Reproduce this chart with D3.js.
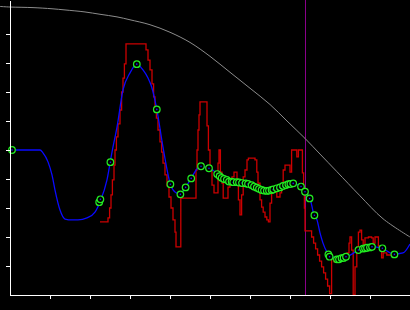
<!DOCTYPE html>
<html>
<head>
    <meta charset="utf-8">
    <style>
        body{
            margin: 0;
            background-color: black;
        }
        svg{
            display: block;
            background-color: black;
        }
        .axis path, .axis line{
            stroke: white;
            stroke-width: 1.5px;
            shape-rendering: crispEdges;
        }
        .axis text{
            display: none;
        }
    </style>
</head>
<body>
    <svg class="vis"></svg>

    <script src="https://cdnjs.cloudflare.com/ajax/libs/d3/7.8.5/d3.min.js"></script>
    <script>

        var width = 410;
        var height = 310;

        // tick values (the reference shows no labels)
        var xTicks = [10, 20, 30, 40, 50, 60, 70, 80, 90];
        var yTicks = [10, 20, 30, 40, 50, 60, 70, 80, 90];

        // marker position
        var markerX = 73.8;

        // gray envelope curve
        var envX = [-2.5, 0, 5.75, 10.5, 13.75, 18.75, 22.5, 26.75, 30, 35, 40, 45, 50, 55, 60, 65, 69.25, 73.75, 77.5, 81.75, 87.5, 93.25, 100];
        var envY = [99.5, 99.3, 99.1, 98.7, 98.3, 97.6, 96.8, 95.9, 94.9, 93.2, 90.6, 87.1, 82.3, 76.8, 71.3, 65.7, 60.0, 54.0, 48.6, 42.5, 34.2, 26.3, 20.0];

        // red raw signal (step)
        var rawX = [22.5, 24.5, 24.9, 25.25, 25.6, 26.0, 26.25, 26.6, 27.0, 27.5, 27.9, 28.25, 28.6, 29.0,
                    34.0, 34.5, 35.0, 35.5, 35.9, 36.25, 36.6, 37.0, 37.5, 37.9, 38.25, 38.75, 39.25, 39.75, 40.25, 40.75, 41.25, 41.5,
                    42.7, 46.5, 46.75, 47.0, 47.25, 47.5, 49.25, 49.6, 50.0, 50.5, 51.0, 51.5, 52.0, 52.25, 52.6, 53.0, 53.3,
                    54.5, 55.0, 55.5, 56.0, 56.75, 57.1, 57.5, 57.9, 58.3, 58.75, 59.25, 59.6, 61.25, 61.7, 62.0, 62.5, 62.9, 63.3, 63.75, 64.2, 64.6,
                    65.0, 65.4, 65.8, 66.7, 67.5, 67.9, 68.3, 68.75, 69.6, 70.0, 70.4, 71.7, 72.1, 73.1, 73.4, 73.6, 73.75,
                    75.4, 75.9, 76.4, 76.9, 77.4, 77.9, 78.4, 78.9, 79.4, 79.9, 80.4, 81.0, 82.0, 83.25, 84.25, 84.75, 85.0, 85.4, 85.8,
                    86.25, 86.7, 87.1, 87.5, 87.9, 88.3, 88.75, 89.6, 90.4, 90.8, 91.25, 92.1, 92.6, 92.9, 93.3, 94.2, 95.8];
        var rawY = [25.2, 26.6, 30.0, 34.5, 39.7, 44.8, 50.0, 54.5, 59.0, 63.8, 70.0, 74.8, 79.7, 86.6,
                    84.5, 81.0, 77.6, 72.8, 68.3, 64.5, 61.0, 56.9, 52.8, 49.3, 45.5, 41.4, 37.6, 33.8, 30.0, 25.9, 21.7, 16.6,
                    33.4, 43.1, 50.0, 56.9, 62.1, 66.6, 58.3, 50.0, 43.1, 37.9, 35.2, 35.2, 45.5, 50.0, 42.4, 38.6, 33.4,
                    37.2, 39.3, 40.7, 42.4, 38.6, 32.8, 27.6, 34.5, 40.7, 43.1, 46.6, 47.2, 46.6, 42.4, 38.6, 32.8, 30.3, 28.6, 26.9, 25.9, 25.2,
                    31.7, 35.2, 37.2, 33.8, 35.2, 37.2, 43.1, 44.8, 44.8, 42.4, 50.0, 47.6, 50.0, 42.1, 37.2, 30.0, 22.1,
                    20.0, 17.9, 15.9, 13.8, 11.7, 9.7, 7.6, 5.5, 3.1, 0.5, 12.8, 11.4, 12.1, 13.4, 14.5, 17.9, 20.0, 15.5, 0,
                    9.7, 16.6, 21.7, 22.4, 19.0, 15.5, 19.7, 20.0, 19.7, 17.9, 20.0, 16.9, 15.5, 12.8, 14.5, 13.8, 13.8];

        // blue fitted curve
        var fitX = [0.5, 7.5, 8.25, 9.5, 10.5, 11.25, 12.5, 13.75, 15.5, 17.0, 19.25, 21.25, 22.5, 24.25, 25.5, 26.75, 28.25, 30.0,
                    31.7, 33.25, 34.5, 35.4, 36.7, 38.25, 40.1, 41.25, 42.5, 43.9, 45.25, 47.5, 49.75, 52.0, 54.5, 57.0, 59.0,
                    60.5, 62.0, 63.25, 64.75, 65.75, 67.5, 69.5, 70.75, 72.75, 73.75, 75.0, 76.0, 76.75, 77.5, 78.25, 79.25,
                    80.75, 82.5, 84.0, 85.5, 87.0, 88.75, 90.5, 93.0, 96.0, 98.25, 100];
        var fitY = [50.0, 50.0, 49.0, 45.9, 41.4, 36.2, 29.3, 26.2, 25.9, 25.9, 26.6, 28.6, 32.1, 39.7, 49.3, 57.9, 70.7, 76.6,
                    79.6, 77.6, 74.8, 71.8, 64.0, 51.0, 38.2, 35.5, 34.8, 37.1, 40.2, 44.3, 43.8, 41.7, 39.4, 38.9, 38.5,
                    37.9, 36.9, 36.2, 36.0, 36.2, 37.1, 38.2, 38.5, 37.3, 35.6, 33.3, 27.6, 25.9, 21.4, 17.9, 14.8,
                    13.1, 12.4, 13.1, 14.1, 15.5, 16.2, 16.7, 16.1, 14.1, 14.5, 17.6];

        // green sample points
        var sampX = [0.5, 22.3, 22.6, 25.1, 31.7, 36.7, 40.1, 42.6, 43.9, 45.3, 47.75, 49.75, 51.8, 52.4, 52.9, 53.5, 54.2, 54.75,
                     55.4, 55.8, 56.7, 57.25, 58.0, 58.9, 59.5, 60.4, 61.0, 61.7, 62.25, 62.9, 63.5, 64.2, 64.75, 65.4, 65.8,
                     66.7, 67.5, 68.25, 69.0, 69.6, 70.1, 70.8, 72.75, 73.75, 74.9, 76.1, 79.6, 79.9, 81.75, 82.25, 82.9, 83.4,
                     84.0, 87.1, 88.25, 88.75, 89.25, 90.0, 90.5, 93.1, 96.1];
        var sampY = [50.0, 32.0, 33.0, 45.8, 79.6, 64.0, 38.2, 34.7, 37.1, 40.2, 44.4, 43.7, 41.7, 41.0, 40.4, 40.0, 39.7, 39.1,
                     39.1, 38.9, 38.9, 38.8, 38.6, 38.5, 38.3, 37.9, 37.4, 37.0, 36.6, 36.2, 36.0, 35.9, 36.0, 36.2, 36.4,
                     36.8, 37.1, 37.6, 37.9, 38.2, 38.3, 38.5, 37.4, 35.6, 33.3, 27.5, 14.0, 13.2, 12.3, 12.3, 12.7, 12.8,
                     13.2, 15.5, 16.0, 16.1, 16.3, 16.4, 16.6, 16.1, 14.0];

        var vis = d3.select("svg.vis")
                 .attr("width", width)
                 .attr("height", height);

        var x = d3.scaleLinear().domain([0, 100]).range([10, 410]);
        var y = d3.scaleLinear().domain([0, 295 / 2.9]).range([295, 0]);

        function zip(xs, ys){
            return xs.map((v, i) => [v, ys[i]]);
        }

        // marker line
        vis.append("line")
            .attr("x1", Math.round(x(markerX)) + 0.5)
            .attr("x2", Math.round(x(markerX)) + 0.5)
            .attr("y1", y(y.domain()[1]))
            .attr("y2", y(0))
            .attr("stroke", "#8a008a")
            .attr("stroke-width", 1)
            .attr("shape-rendering", "crispEdges");

        var line = d3.line()
            .x(d => x(d[0]))
            .y(d => y(d[1]));

        vis.append("path")
            .datum(zip(envX, envY))
            .attr("d", line.curve(d3.curveCatmullRom))
            .attr("fill", "none")
            .attr("stroke", "#8c8c8c")
            .attr("stroke-width", 1);

        vis.append("path")
            .datum(zip(rawX, rawY))
            .attr("d", line.curve(d3.curveStepAfter))
            .attr("fill", "none")
            .attr("stroke", "#cc0000")
            .attr("stroke-width", 1.3);

        vis.append("path")
            .datum(zip(fitX, fitY))
            .attr("d", line.curve(d3.curveMonotoneX))
            .attr("fill", "none")
            .attr("stroke", "#0a0aff")
            .attr("stroke-width", 1.3);

        var pts = vis.append("g").attr("class", "points")
            .selectAll("g")
            .data(zip(sampX, sampY))
            .join("g")
            .attr("transform", d => `translate(${x(d[0])},${y(d[1])})`);

        pts.append("circle")
            .attr("r", 3.3)
            .attr("fill", "black")
            .attr("stroke", "#22ee22")
            .attr("stroke-width", 1.2);

        pts.append("circle")
            .attr("r", 0.8)
            .attr("fill", "#1a1aff");

        // axes
        vis.append("g")
            .attr("class", "axis")
            .attr("transform", "translate(10,0)")
            .call(d3.axisLeft(y).tickValues(yTicks).tickSize(4).tickSizeOuter(0).tickFormat(""));

        vis.append("g")
            .attr("class", "axis")
            .attr("transform", "translate(0,295)")
            .call(d3.axisBottom(x).tickValues(xTicks).tickSize(4).tickSizeOuter(0).tickFormat(""));

    </script>
</body>
</html>
